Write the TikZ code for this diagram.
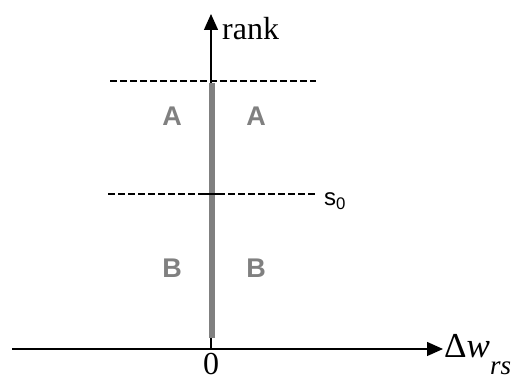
\documentclass[tikz,border=0pt]{standalone}
\usepackage{fontspec}
\setmainfont{Liberation Serif}
\newfontfamily\zonefont{Liberation Sans}
\usetikzlibrary{arrows.meta}

\begin{document}
\begin{tikzpicture}[x=1pt, y=-1pt, >={Triangle[length=16pt,width=14pt]},
  axis/.style={line width=1.3pt},
  level/.style={line width=1.1pt, dash pattern=on 6.5pt off 3.5pt},
  zone/.style={font=\zonefont\bfseries\fontsize{27}{27}\selectfont, text=black!50},
  bigserif/.style={font=\fontsize{32}{32}\selectfont, inner sep=0pt}]

  \useasboundingbox (0,0) rectangle (515,382);

  % ==========================================
  % AXES
  % ==========================================
  \coordinate (origin) at (211,349);
  \coordinate (xstart) at (12,349);
  \coordinate (xend) at (443,349);
  \coordinate (ytop) at (211,14);
  \draw[axis,->] (xstart) -- (xend);
  \draw[axis,->] (origin) -- (ytop);

  % bande grise autour de 0
  \coordinate (bartop) at (212,83);
  \coordinate (barbot) at (212,338);
  \draw[line width=6pt, black!50] (bartop) -- (barbot);

  % ==========================================
  % NIVEAUX (pointilles)
  % ==========================================
  \coordinate (topl) at (110,81);
  \coordinate (topr) at (316,81);
  \draw[level] (topl) -- (topr);

  \coordinate (midl) at (108,194);
  \coordinate (midr) at (318,194);
  \draw[level] (midl) -- (midr);
  \coordinate (tickl) at (204,194);
  \coordinate (tickr) at (222,194);
  \draw[axis] (tickl) -- (tickr);
  \node[font=\zonefont\fontsize{24}{24}\selectfont, anchor=base west, inner sep=0pt] (s0) at (324,206) {s\textsubscript{0}};

  % ==========================================
  % ZONES A / B
  % ==========================================
  \node[zone] (Aleft) at (172,116) {A};
  \node[zone] (Aright) at (256,116) {A};
  \node[zone] (Bleft) at (172,268) {B};
  \node[zone] (Bright) at (256,268) {B};

  % ==========================================
  % LABELS DES AXES
  % ==========================================
  \node[bigserif, anchor=base west] (rank) at (222,40) {rank};
  \node[bigserif, anchor=base] (zero) at (211,375) {0};
  \node[font=\fontsize{35}{35}\selectfont, inner sep=0pt, anchor=base west] (dw) at (444,358) {Δ\textit{w}\raisebox{-17pt}{\fontsize{27}{27}\selectfont\textit{rs}}};

\end{tikzpicture}
\end{document}
